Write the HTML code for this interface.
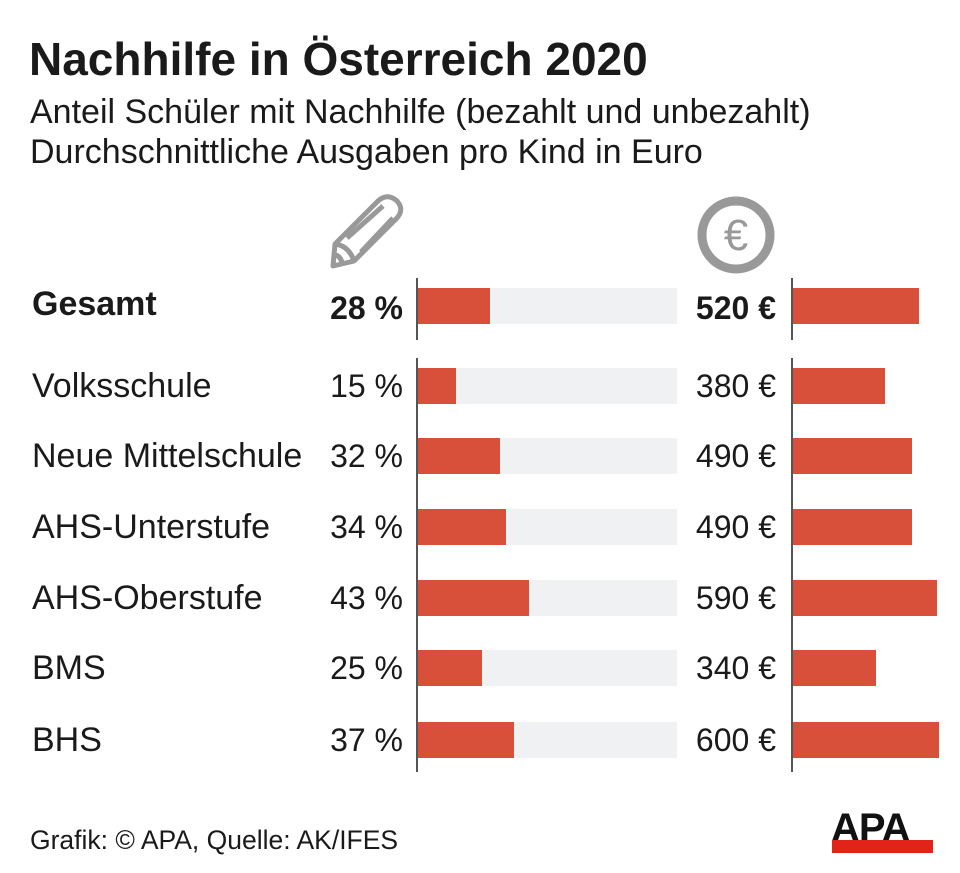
<!DOCTYPE html>
<html><head><meta charset="utf-8"><style>
body{margin:0;width:960px;height:873px;background:#fff;font-family:"Liberation Sans",Arial,sans-serif;color:#1a1a1a;position:relative;overflow:hidden}
.a{position:absolute;white-space:nowrap}
.lab{left:32px;font-size:34px;line-height:36px}
.pc{width:140px;left:263px;text-align:right;font-size:32px;line-height:36px}
.eu{width:140px;left:636px;text-align:right;font-size:32px;line-height:36px}
.bg{position:absolute;left:418px;width:259px;height:36px;background:#f0f1f3}
.br{position:absolute;height:36px;background:#d9503a}
.ax{position:absolute;width:2px;background:#555}
</style></head><body>
<div class="a" style="left:29px;top:34px;font-size:46px;line-height:50px;font-weight:bold">Nachhilfe in Österreich 2020</div>
<div class="a" style="left:30px;top:94px;font-size:34px;line-height:36px">Anteil Schüler mit Nachhilfe (bezahlt und unbezahlt)</div>
<div class="a" style="left:30px;top:134px;font-size:34px;line-height:36px">Durchschnittliche Ausgaben pro Kind in Euro</div>
<svg class="a" style="left:325px;top:192px" width="85" height="80" viewBox="0 0 85 80">
<g fill="none" stroke="#999" stroke-width="5" stroke-linejoin="round">
<path d="M10 52 L52 10 Q62 0 72 9 Q80 18 71 27 L29 69 L8 74 Z"/>
<path d="M10 52 Q24 54 29 69"/><path d="M22 46 L58 14"/><path d="M36 60 L68 26"/>
<path d="M11 63 Q16 65 17 71"/></g></svg>
<svg class="a" style="left:695px;top:194px" width="84" height="84" viewBox="0 0 84 84">
<circle cx="41" cy="41" r="34" fill="none" stroke="#999" stroke-width="9"/>
<text x="41" y="56" font-size="44" text-anchor="middle" fill="#999" font-family="Liberation Sans">€</text></svg>

<div class="ax" style="left:416px;top:278px;height:62px"></div>
<div class="ax" style="left:791px;top:278px;height:62px"></div>
<div class="ax" style="left:416px;top:358px;height:414px"></div>
<div class="ax" style="left:791px;top:358px;height:414px"></div>

<div class="a lab" style="top:286px;font-weight:bold">Gesamt</div>
<div class="a pc" style="top:290px;font-weight:bold">28 %</div>
<div class="bg" style="top:288px"></div><div class="br" style="left:418px;top:288px;width:72px"></div>
<div class="a eu" style="top:290px;font-weight:bold">520 €</div>
<div class="br" style="left:793px;top:288px;width:126px"></div>

<div class="a lab" style="top:368px">Volksschule</div>
<div class="a pc" style="top:368px">15 %</div>
<div class="bg" style="top:368px"></div><div class="br" style="left:418px;top:368px;width:38px"></div>
<div class="a eu" style="top:368px">380 €</div>
<div class="br" style="left:793px;top:368px;width:92px"></div>

<div class="a lab" style="top:438px">Neue Mittelschule</div>
<div class="a pc" style="top:438px">32 %</div>
<div class="bg" style="top:438px"></div><div class="br" style="left:418px;top:438px;width:82px"></div>
<div class="a eu" style="top:438px">490 €</div>
<div class="br" style="left:793px;top:438px;width:119px"></div>

<div class="a lab" style="top:509px">AHS-Unterstufe</div>
<div class="a pc" style="top:509px">34 %</div>
<div class="bg" style="top:509px"></div><div class="br" style="left:418px;top:509px;width:88px"></div>
<div class="a eu" style="top:509px">490 €</div>
<div class="br" style="left:793px;top:509px;width:119px"></div>

<div class="a lab" style="top:580px">AHS-Oberstufe</div>
<div class="a pc" style="top:580px">43 %</div>
<div class="bg" style="top:580px"></div><div class="br" style="left:418px;top:580px;width:111px"></div>
<div class="a eu" style="top:580px">590 €</div>
<div class="br" style="left:793px;top:580px;width:144px"></div>

<div class="a lab" style="top:650px">BMS</div>
<div class="a pc" style="top:650px">25 %</div>
<div class="bg" style="top:650px"></div><div class="br" style="left:418px;top:650px;width:64px"></div>
<div class="a eu" style="top:650px">340 €</div>
<div class="br" style="left:793px;top:650px;width:83px"></div>

<div class="a lab" style="top:722px">BHS</div>
<div class="a pc" style="top:722px">37 %</div>
<div class="bg" style="top:722px"></div><div class="br" style="left:418px;top:722px;width:96px"></div>
<div class="a eu" style="top:722px">600 €</div>
<div class="br" style="left:793px;top:722px;width:146px"></div>

<div class="a" style="left:30px;top:825px;font-size:26.5px;line-height:30px">Grafik: © APA, Quelle: AK/IFES</div>
<div class="a" style="left:831px;top:808px;font-size:40px;font-weight:bold;letter-spacing:-1px;color:#111;line-height:40px">APA</div>
<div class="a" style="left:832px;top:840px;width:101px;height:13px;background:#e2231a"></div>
</body></html>
